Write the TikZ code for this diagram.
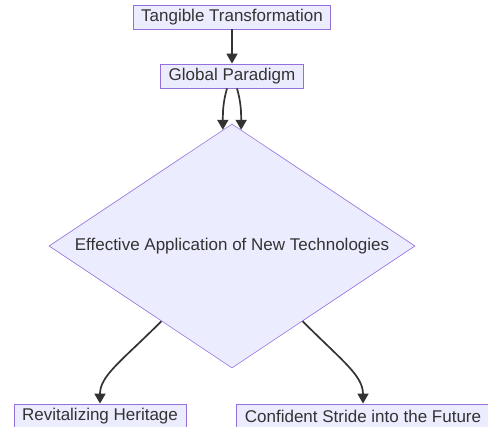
\documentclass[tikz,border=0pt]{standalone}
\usepackage{fontspec}
\setmainfont{Liberation Sans}
\usetikzlibrary{shapes.geometric,arrows.meta,calc}
\definecolor{nodefill}{HTML}{ECECFF}
\definecolor{nodeline}{HTML}{9370DB}
\definecolor{ink}{HTML}{333333}
\begin{document}
\begin{tikzpicture}[x=1pt,y=-1pt,
  procbox/.style={draw=nodeline,fill=nodefill,line width=0.8pt,text=ink,
    font=\fontsize{17}{20}\selectfont,inner xsep=8pt,inner ysep=0pt,
    minimum height=24pt,anchor=center},
  decision/.style={draw=nodeline,fill=nodefill,line width=0.6pt,text=ink,
    font=\fontsize{17}{20}\selectfont,diamond,shape aspect=1.5,inner sep=0pt,
    minimum width=366pt,minimum height=244pt},
  flow/.style={draw=ink,line width=1.7pt,-{Triangle[length=10pt,width=11pt]}}]
  \useasboundingbox (0,0) rectangle (488,427);

  \node[procbox] (tt) at (232,17) {Tangible Transformation};
  \node[procbox] (gp) at (232,76) {Global Paradigm};
  \node[decision] (ea) at (232,246) {Effective Application of New Technologies};
  \node[procbox] (rh) at (100,416) {Revitalizing Heritage};
  \node[procbox] (cs) at (363,416) {Confident Stride into the Future};

  % exit points on the lower edges of the decision
  \coordinate (eaL) at ($(ea.west)!0.615!(ea.south)$);
  \coordinate (eaR) at ($(ea.east)!0.615!(ea.south)$);
  % entry points on the upper edges of the decision
  \coordinate (eaTL) at ($(ea.north)!0.05!(ea.west)$);
  \coordinate (eaTR) at ($(ea.north)!0.05!(ea.east)$);

  \draw[flow] (tt.south) -- (gp.north);
  \draw[flow] ($(gp.south)+(-5,0)$) .. controls ($(gp.south)+(-9,14)$) and ($(eaTL)+(0,-18)$) .. (eaTL);
  \draw[flow] ($(gp.south)+(5,0)$) .. controls ($(gp.south)+(9,14)$) and ($(eaTR)+(0,-18)$) .. (eaTR);
  \draw[flow] (eaL) .. controls ($(eaL)+(-40,40)$) and ($(rh.north)+(0,-28)$) .. (rh.north);
  \draw[flow] (eaR) .. controls ($(eaR)+(40,40)$) and ($(cs.north)+(0,-28)$) .. (cs.north);
\end{tikzpicture}
\end{document}
